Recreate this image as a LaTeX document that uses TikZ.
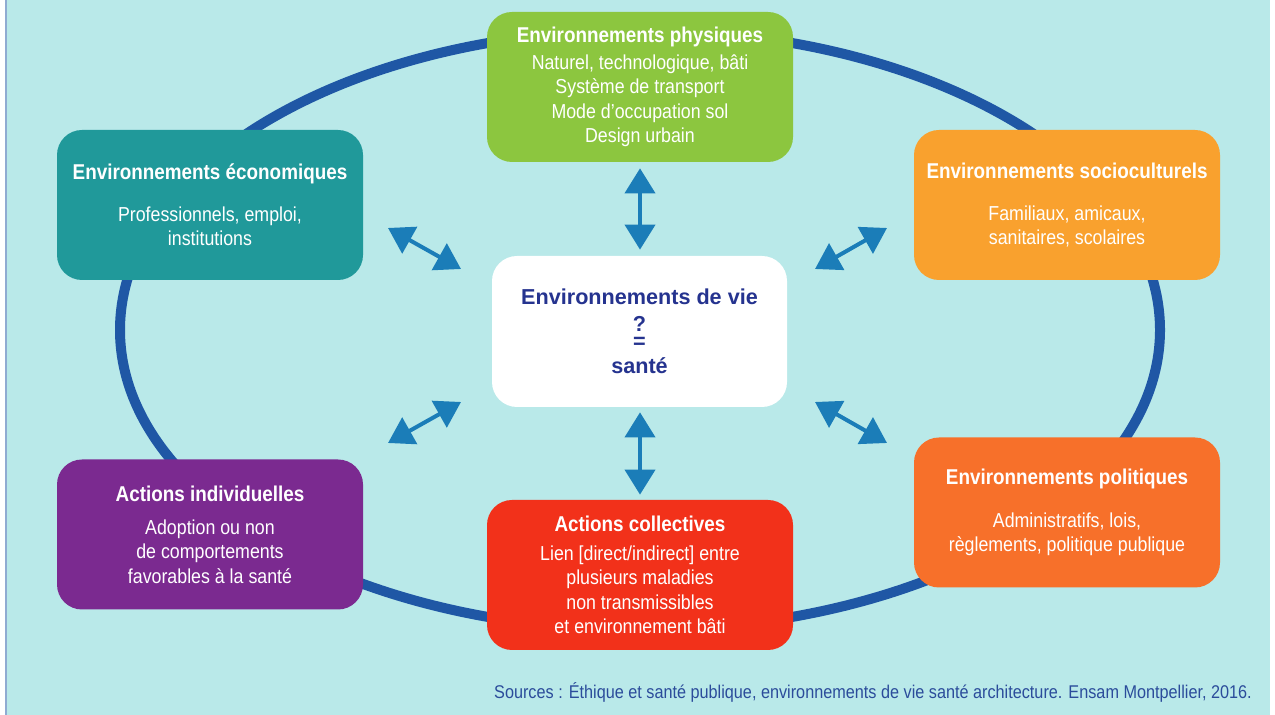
\documentclass[tikz,border=0pt]{standalone}
\usepackage{fontspec}
\setmainfont{Liberation Sans}[FakeStretch=0.88]
\newfontfamily\centerfont{Liberation Sans}
\usetikzlibrary{arrows.meta}

\definecolor{bgcyan}{HTML}{B9E9E9}
\definecolor{ringblue}{HTML}{1F57A5}
\definecolor{arrowblue}{HTML}{1B7DB8}
\definecolor{physgreen}{HTML}{8CC63F}
\definecolor{ecoteal}{HTML}{20999A}
\definecolor{socorange}{HTML}{F9A12E}
\definecolor{polorange}{HTML}{F7702A}
\definecolor{indpurple}{HTML}{7B2A90}
\definecolor{colred}{HTML}{F2311A}
\definecolor{navytext}{HTML}{25338F}
\definecolor{sourceblue}{HTML}{2B4C9B}

\newcommand{\envtitle}[1]{{\fontsize{12.2}{14}\selectfont\bfseries #1}}

\begin{document}
\begin{tikzpicture}[
    envbox/.style={rounded corners=0.5cm, minimum width=6.12cm, minimum height=3cm,
        inner sep=0pt, align=center, text=white, font=\fontsize{11.5}{13.9}\selectfont},
    link/.style={draw=arrowblue, line width=0.08cm,
        {Triangle[width=0.6cm,length=0.5cm]}-{Triangle[width=0.6cm,length=0.5cm]}}
    ]
            \useasboundingbox (0,0) rectangle (25.5,14.3);
            \fill[bgcyan] (0.13,0) rectangle (25.4,14.3);
            \draw[line width=0.04cm, draw=ringblue!50] (0.12,0) -- (0.12,14.3);
            % ring behind the boxes
            \draw[ringblue, line width=0.2cm] (12.8,7.7) ellipse (10.4cm and 6cm);

            \node[envbox, fill=physgreen] (phys) at (12.8,12.56)
                {\envtitle{Environnements physiques}\\[1.4pt]
                 Naturel, technologique, bâti\\ Système de transport\\
                 Mode d’occupation sol\\ Design urbain};
            \node[envbox, fill=ecoteal] (eco) at (4.2,10.2)
                {\envtitle{Environnements économiques}\\[0.35cm]
                 Professionnels, emploi,\\ institutions};
            \node[envbox, fill=socorange] (soc) at (21.34,10.2)
                {\envtitle{Environnements socioculturels}\\[0.35cm]
                 Familiaux, amicaux,\\ sanitaires, scolaires};
            \node[envbox, fill=indpurple] (ind) at (4.2,3.61)
                {\envtitle{Actions individuelles}\\[0.17cm]
                 Adoption ou non\\ de comportements\\ favorables à la santé};
            \node[envbox, fill=colred] (col) at (12.8,2.8)
                {\envtitle{Actions collectives}\\[0.09cm]
                 Lien [direct/indirect] entre\\ plusieurs maladies\\
                 non transmissibles\\ et environnement bâti};
            \node[envbox, fill=polorange] (pol) at (21.34,4.05)
                {\envtitle{Environnements politiques}\\[0.37cm]
                 Administratifs, lois,\\ règlements, politique publique};
            \node[envbox, fill=white, minimum width=5.9cm, minimum height=3.02cm,
                text=navytext, font=\centerfont\bfseries\fontsize{12.3}{14}\selectfont]
                (vie) at (12.79,7.67)
                {Environnements de vie\\[1pt] ?\\[-4.5pt] =\\[0.5pt] santé};

            % double arrows
            \draw[link, shorten <=0.12cm, shorten >=0.12cm] (phys.south) -- (phys.south |- vie.north);
            \draw[link, shorten <=0.1cm, shorten >=0.1cm] (vie.south -| col.north) -- (col.north);
            \coordinate (ecoA) at (7.76,9.74);
            \coordinate (ecoB) at (9.22,8.92);
            \coordinate (socA) at (17.74,9.74);
            \coordinate (socB) at (16.30,8.92);
            \coordinate (indA) at (7.76,5.44);
            \coordinate (indB) at (9.22,6.26);
            \coordinate (polA) at (17.74,5.44);
            \coordinate (polB) at (16.30,6.26);
            \draw[link] (ecoA) -- (ecoB);
            \draw[link] (socA) -- (socB);
            \draw[link] (indA) -- (indB);
            \draw[link] (polA) -- (polB);

            \node[anchor=east, text=sourceblue, font=\fontsize{10.5}{12}\selectfont]
                (src) at (25.16,0.46)
                {Sources : Éthique et santé publique, environnements de vie santé architecture. Ensam Montpellier, 2016.};
        \end{tikzpicture}
\end{document}
